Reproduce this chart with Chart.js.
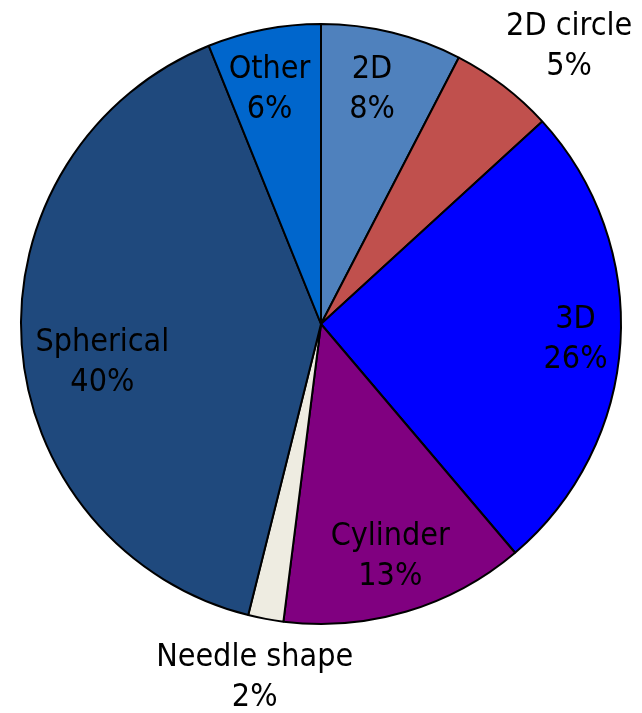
<!DOCTYPE html>
<html>
<head>
<meta charset="utf-8">
<script src="https://cdn.jsdelivr.net/npm/chart.js@4"></script>
<style>
  html, body { margin: 0; padding: 0; background: #fff; }
  #wrap { width: 642px; height: 713px; }
</style>
</head>
<body>
<div id="wrap"><canvas id="pieChart" width="642" height="713"></canvas></div>
<script>
// slice data, clockwise from the top
const categories = ['2D', '2D circle', '3D', 'Cylinder', 'Needle shape', 'Spherical', 'Other'];
const shares = [7.6, 5.6, 25.6, 13.2, 1.9, 40.0, 6.1];
const pctLabels = ['8%', '5%', '26%', '13%', '2%', '40%', '6%'];
const sliceColors = ['#4F81BD', '#C0504D', '#0000FF', '#800080', '#EEECE1', '#1F497D', '#0066CC'];
// label placement: share of radius (>1 = outside) and a small turn in degrees
const labelRadius = [0.8, 1.24, 0.85, 0.81, 1.2, 0.74, 0.8];
const labelTurn = [-1.4, 4.4, 0, 0, 0, -6, -1.4];

const FONT = '32px "DejaVu Sans Condensed", "DejaVu Sans", sans-serif';

// simple label drawer, no datalabels plugin available
const sliceLabels = {
    id: 'sliceLabels',
    afterDatasetsDraw(chart) {
        const ctx = chart.ctx;
        const arcs = chart.getDatasetMeta(0).data;
        ctx.save();
        ctx.font = FONT;
        ctx.fillStyle = '#000';
        ctx.textAlign = 'center';
        ctx.textBaseline = 'middle';
        arcs.forEach((arc, i) => {
            const mid = (arc.startAngle + arc.endAngle) / 2 + labelTurn[i] * Math.PI / 180;
            const r = arc.outerRadius * labelRadius[i];
            const x = arc.x + Math.cos(mid) * r;
            const y = arc.y + Math.sin(mid) * r;
            ctx.fillText(categories[i], x, y - 20);
            ctx.fillText(pctLabels[i], x, y + 20);
        });
        ctx.restore();
    }
};

new Chart(document.getElementById('pieChart').getContext('2d'), {
    type: 'pie',
    data: {
        labels: categories,
        datasets: [{
            data: shares,
            backgroundColor: sliceColors,
            borderColor: '#000',
            borderWidth: 2
        }]
    },
    options: {
        responsive: false,
        animation: false,
        layout: { padding: { top: 23, bottom: 88, left: 20, right: 20 } },
        plugins: {
            legend: { display: false },
            tooltip: { enabled: false }
        }
    },
    plugins: [sliceLabels]
});
</script>
</body>
</html>
